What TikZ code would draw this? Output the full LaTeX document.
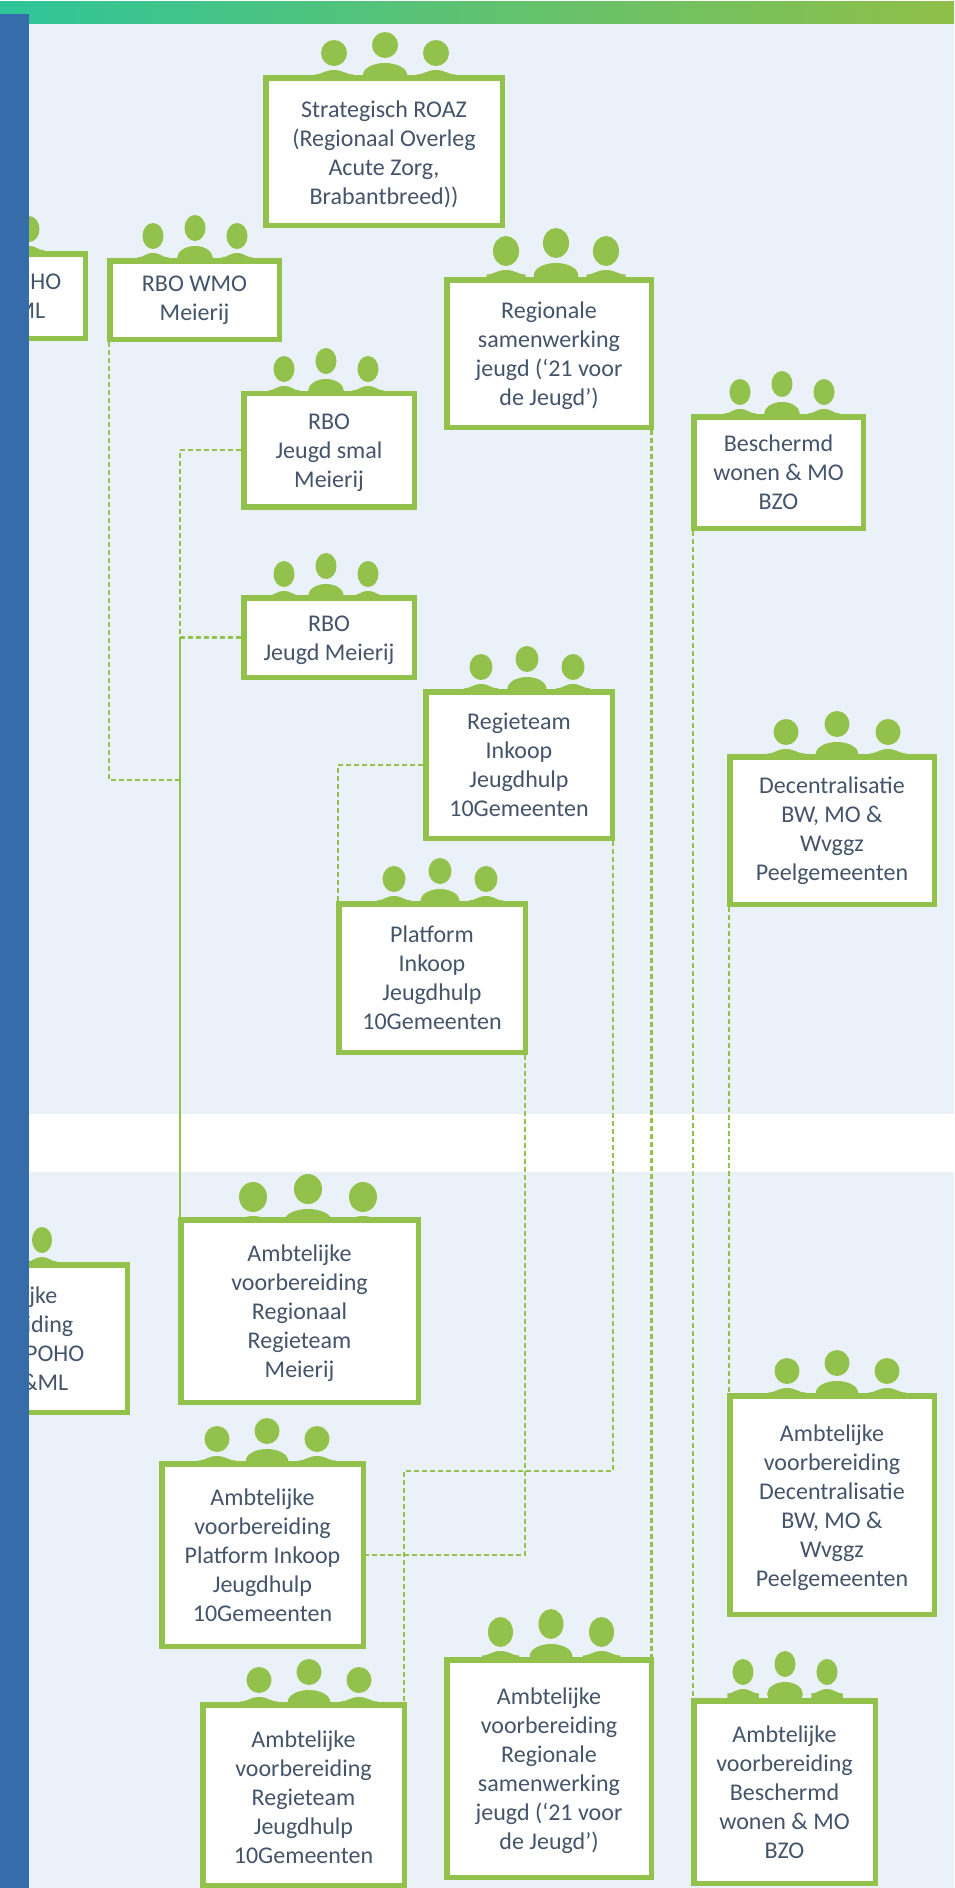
\documentclass[tikz,border=0pt]{standalone}
\usepackage{fontspec}
\setmainfont{Carlito}
\definecolor{ovgreen}{HTML}{92C24C}
\definecolor{ovpanel}{HTML}{EAF1F9}
\definecolor{ovblue}{HTML}{366CA9}
\definecolor{ovtext}{HTML}{44546A}
\definecolor{barleft}{HTML}{2EC59A}
\definecolor{barright}{HTML}{8FBF48}
% one person at the edge of a crowd: x, box top, head rx, head ry, sink
\newcommand{\sideperson}[5]{
    \fill[ovgreen] ({#1},{#2+#5-#4-9}) ellipse [x radius=#3, y radius=#4];
    \fill[ovgreen] ({#1-1.5*#3},{#2+#5-0.5}) .. controls ({#1-0.9*#3},{#2+#5-0.5}) and ({#1-0.7*#3},{#2+#5-5}) .. ({#1},{#2+#5-5})
        .. controls ({#1+0.7*#3},{#2+#5-5}) and ({#1+0.9*#3},{#2+#5-0.5}) .. ({#1+1.5*#3},{#2+#5-0.5}) -- ({#1+1.5*#3},{#2+6}) -- ({#1-1.5*#3},{#2+6}) -- cycle;
}
\newcommand{\midperson}[5]{
    \fill[ovgreen] ({#1},{#2+#5-#4-17}) ellipse [x radius=#3, y radius=#4];
    \fill[ovgreen] ({#1},{#2+#5}) ellipse [x radius={1.7*#3}, y radius=12];
}
% taller first line, sets the text a little lower in its box
\newcommand{\lowline}{\rule{0pt}{22pt}}
\begin{document}
\begin{tikzpicture}[x=1pt, y=-1pt,
    orgbox/.style={draw=ovgreen, line width=5.5pt, fill=white, inner sep=0, align=center, text=ovtext, font=\fontsize{24}{29}\selectfont},
    linkdash/.style={ovgreen, line width=2.5pt, dash pattern=on 5pt off 3pt},
    linksolid/.style={ovgreen, line width=2.5pt}]
    \useasboundingbox (0,0) rectangle (954,1888);
    \fill[ovpanel] (0,23) rectangle (954,1114);
    \fill[ovpanel] (0,1172) rectangle (954,1888);
    \shade[left color=barleft, right color=barright] (0,1) rectangle (954,23);

    % crowds, the boxes cover their lower part
    \foreach \cx/\tp/\gap/\rx/\ry/\sink in {385/75/51/13/13/0, 195/258/42/10.5/13/0, 326/391/42/10.5/13/0, 326/596/42/10.5/13/0,
        556/277/50/13/15/-2, 782/414/42/10.5/13/0, 527/689/46/11.5/13/0, 837/754/51/12.5/13/0, 440/901/46/11.5/13/0,
        308/1217/55/14/15/4, 267/1461/50/12.5/13/0, 309/1702/50/12.5/13/0, 551/1657/50.5/12.5/15/-1, 837/1393/50/12.5/13/0, 785/1698/42/10.5/13/-4} {
        \sideperson{\cx-\gap}{\tp}{\rx}{\ry}{\sink}
        \midperson{\cx}{\tp}{\rx}{\ry}{\sink}
        \sideperson{\cx+\gap}{\tp}{\rx}{\ry}{\sink}
    }
    \sideperson{29}{251}{10.5}{13}{0}
    \sideperson{42}{1262}{10}{13}{0}

    \node[orgbox, minimum width=236.5, minimum height=147.5] (strat) at (384,151.5) {\lowline Strategisch ROAZ\\(Regionaal Overleg\\Acute Zorg,\\Brabantbreed))};
    \node[orgbox, minimum width=78.5, minimum height=84.5, text width=78.5, align=right] (poho) at (46,296) {HO\rule{24pt}{0pt}\\ML\rule{40pt}{0pt}};
    \node[orgbox, minimum width=169.5, minimum height=78.5] (rbowmo) at (194.5,300) {RBO WMO\\Meierij};
    \node[orgbox, minimum width=170.5, minimum height=113.5] (rbosmal) at (329,450) {\lowline RBO\\Jeugd smal\\Meierij};
    \node[orgbox, minimum width=170.5, minimum height=79.5] (rbomei) at (329,637.5) {\lowline RBO\\Jeugd Meierij};
    \node[orgbox, minimum width=204.5, minimum height=147.5] (regio) at (549,353.5) {\lowline Regionale\\samenwerking\\jeugd (‘21 voor\\de Jeugd’)};
    \node[orgbox, minimum width=169.5, minimum height=111.5] (besch) at (778.5,472.5) {Beschermd\\wonen \& MO\\BZO};
    \node[orgbox, minimum width=186.5, minimum height=146.5] (regie) at (519,765) {Regieteam\\Inkoop\\Jeugdhulp\\10Gemeenten};
    \node[orgbox, minimum width=204.5, minimum height=147.5] (decent) at (832,830.5) {Decentralisatie\\BW, MO \&\\Wvggz\\Peelgemeenten};
    \node[orgbox, minimum width=186.5, minimum height=148.5] (platf) at (432,978) {Platform\\Inkoop\\Jeugdhulp\\10Gemeenten};

    \node[orgbox, minimum width=120.5, minimum height=147.5, text width=120.5, align=right] (ambpoho) at (67,1338.5) {jke\rule{70pt}{0pt}\\iding\rule{54pt}{0pt}\\POHO\rule{43pt}{0pt}\\\&ML\rule{59pt}{0pt}};
    \node[orgbox, minimum width=237.5, minimum height=182.5] (ambmei) at (299.5,1311) {\lowline Ambtelijke\\voorbereiding\\Regionaal\\Regieteam\\Meierij};
    \node[orgbox, minimum width=201.5, minimum height=182.5] (ambplatf) at (262.5,1555) {Ambtelijke\\voorbereiding\\Platform Inkoop\\Jeugdhulp\\10Gemeenten};
    \node[orgbox, minimum width=201.5, minimum height=180.5] (ambregie) at (303.5,1795) {\lowline Ambtelijke\\voorbereiding\\Regieteam\\Jeugdhulp\\10Gemeenten};
    \node[orgbox, minimum width=204.5, minimum height=217.5] (ambregio) at (549,1768.5) {\lowline Ambtelijke\\voorbereiding\\Regionale\\samenwerking\\jeugd (‘21 voor\\de Jeugd’)};
    \node[orgbox, minimum width=181.5, minimum height=182.5] (ambbesch) at (784.5,1792) {Ambtelijke\\voorbereiding\\Beschermd\\wonen \& MO\\BZO};
    \node[orgbox, minimum width=204.5, minimum height=218.5] (ambdec) at (832,1505) {\lowline Ambtelijke\\voorbereiding\\Decentralisatie\\BW, MO \&\\Wvggz\\Peelgemeenten};

    \coordinate (joinwmo) at (180,780);
    \coordinate (joinmei) at (180,637.5);
    \coordinate (bendregie) at (404,1471);
    \draw[linkdash] ([xshift=2]rbowmo.south west) |- (joinwmo);
    \draw[linkdash] (rbosmal.west) -| (joinmei);
    \draw[linkdash] (rbomei.west) -- (joinmei);
    \draw[linksolid] (joinmei) -- ([xshift=2]ambmei.north west);
    \draw[linkdash] (regie.west) -| ([xshift=2]platf.north west);
    \draw[linkdash] ([xshift=-2]regie.south east) |- (bendregie) -- ([xshift=-3]ambregie.north east);
    \draw[linkdash] ([xshift=-3]platf.south east) |- (ambplatf.east);
    \draw[linkdash] ([xshift=-2.5]regio.south east) -- ([xshift=-2.5]ambregio.north east);
    \draw[linkdash] ([xshift=2]besch.south west) -- ([xshift=2]ambbesch.north west);
    \draw[linkdash] ([xshift=2]decent.south west) -- ([xshift=2]ambdec.north west);

    \fill[ovblue] (0,14) rectangle (29,1888);
\end{tikzpicture}
\end{document}
